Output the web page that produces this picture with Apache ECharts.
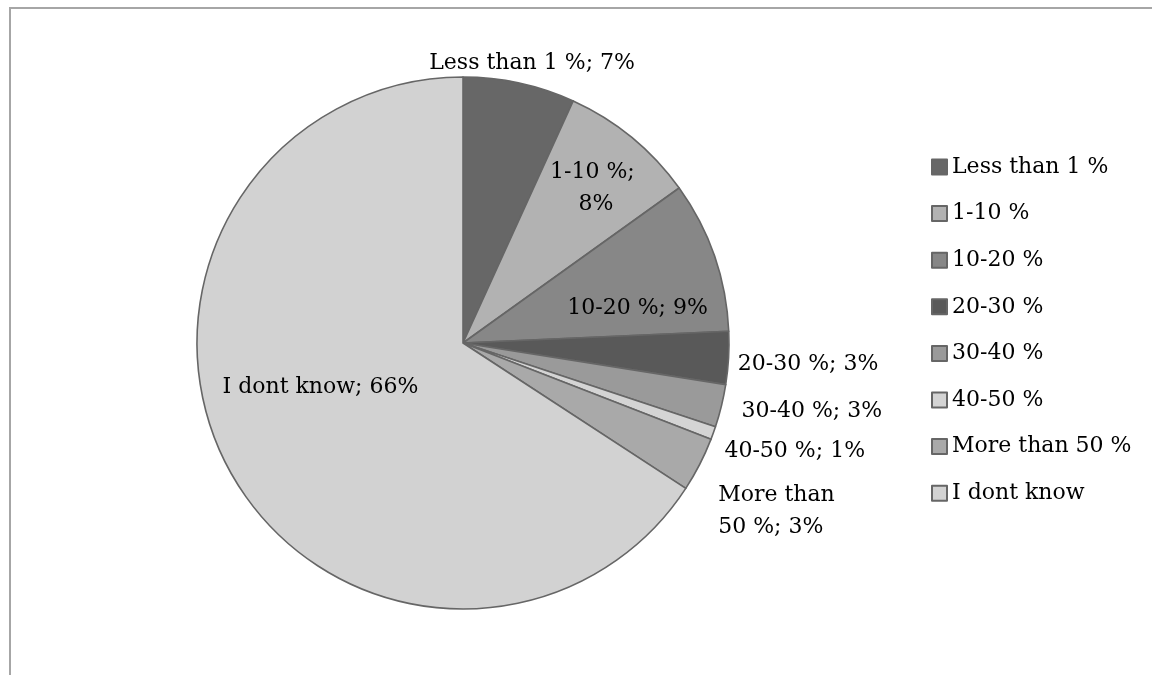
<!DOCTYPE html>
<html>
<head>
<meta charset="utf-8">
<script src="https://cdn.jsdelivr.net/npm/echarts@6/dist/echarts.min.js"></script>
<style>
  html, body { margin: 0; padding: 0; background: #fff; }
  #pie { width: 1152px; height: 675px; }
</style>
</head>
<body>
<div id="pie"></div>
<script>
// answer categories and their share of responses (%)
const categories = ["Less than 1 %", "1-10 %", "10-20 %", "20-30 %", "30-40 %", "40-50 %", "More than 50 %", "I dont know"];
const shares = [6.8, 8.3, 9.2, 3.2, 2.6, 0.8, 3.3, 65.8];
const sliceColors = ["#676767", "#b2b2b2", "#878787", "#595959", "#9a9a9a", "#d4d4d4", "#a9a9a9", "#d2d2d2"];
// label placement tweaks (like excel's "best fit")
const insideLabel = [false, true, true, false, false, false, false, true];
const wrapWidth = [null, 90, null, null, null, null, 130, null];
const labelNudge = [[-96, -16], [43, -50], [46, 10], [5, 6], [13, 4], [2, 10], [10, 20], [-23, -20]];

const chartDom = document.getElementById("pie");
const myChart = echarts.init(chartDom);
const font = "DejaVu Serif";

const seriesData = [];
categories.forEach((name, i) => {
  const lbl = { position: insideLabel[i] ? "inside" : "outside" };
  if (wrapWidth[i]) {
    lbl.width = wrapWidth[i];
    lbl.overflow = "break";
  }
  seriesData.push({
    name: name,
    value: shares[i],
    itemStyle: { color: sliceColors[i] },
    label: lbl,
  });
});

const option = {
  animation: false,
  backgroundColor: "#fff",
  graphic: [
    {
      type: "polyline",
      shape: { points: [[10, 675], [10, 8], [1152, 8]] },
      style: { stroke: "#a6a6a6", lineWidth: 2, fill: null },
      silent: true,
    },
  ],
  legend: {
    orient: "vertical",
    left: 926,
    top: 151,
    itemWidth: 15,
    itemHeight: 15,
    itemGap: 24.6,
    icon: "rect",
    textStyle: { fontFamily: font, fontSize: 22, color: "#000" },
    data: categories,
  },
  series: [
    {
      type: "pie",
      center: [463, 343],
      radius: 266,
      startAngle: 90,
      clockwise: true,
      avoidLabelOverlap: true,
      itemStyle: { borderColor: "#666", borderWidth: 1.6 },
      label: {
        fontFamily: font,
        fontSize: 22,
        color: "#000",
        lineHeight: 32,
        formatter: (p) => p.name + "; " + Math.round(p.percent) + "%",
      },
      labelLine: { show: false, length: 4, length2: 0 },
      labelLayout: (params) => {
        const n = labelNudge[params.dataIndex];
        return { dx: n[0], dy: n[1] };
      },
      emphasis: { disabled: true },
      data: seriesData,
    },
  ],
};
myChart.setOption(option);
window.addEventListener("resize", myChart.resize);
</script>
</body>
</html>
